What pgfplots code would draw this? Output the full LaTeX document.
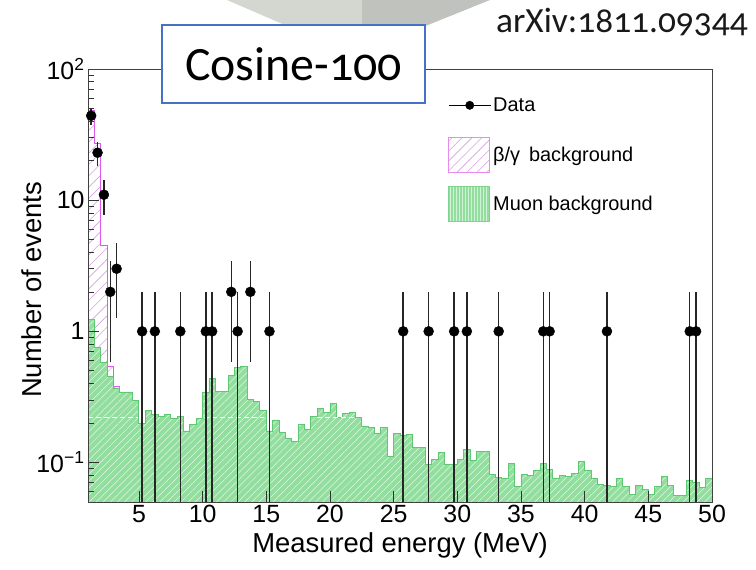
\documentclass[border=0pt]{standalone}
\usepackage{fontspec}
\setmainfont{Liberation Sans}
\newfontfamily\carlito[Numbers=OldStyle]{Carlito}
\usepackage{pgfplots}
\pgfplotsset{compat=1.18}
\usepackage{pgfplotstable}
\usetikzlibrary{patterns.meta}

\definecolor{mgreen}{RGB}{146,222,158}
\definecolor{mgreenline}{RGB}{95,200,115}
\definecolor{bgline}{RGB}{222,90,232}
\definecolor{bghatch}{RGB}{215,160,225}
\definecolor{boxblue}{RGB}{68,114,196}
\definecolor{slgreyA}{RGB}{212,214,208}
\definecolor{slgreyB}{RGB}{192,194,189}

% Muon background (bin left edges, 0.5 MeV bins)
\pgfplotstableread{
x y
1.0 1.23
1.5 0.75
2.0 0.575
2.5 0.45
3.0 0.37
3.5 0.345
4.0 0.345
4.5 0.295
5.0 0.20
5.5 0.25
6.0 0.233
6.5 0.224
7.0 0.233
7.5 0.217
8.0 0.224
8.5 0.174
9.0 0.194
9.5 0.218
10.0 0.34
10.5 0.44
11.0 0.35
11.5 0.35
12.0 0.46
12.5 0.53
13.0 0.54
13.5 0.30
14.0 0.294
14.5 0.25
15.0 0.174
15.5 0.211
16.0 0.17
16.5 0.153
17.0 0.146
17.5 0.195
18.0 0.179
18.5 0.223
19.0 0.257
19.5 0.24
20.0 0.281
20.5 0.22
21.0 0.237
21.5 0.24
22.0 0.22
22.5 0.187
23.0 0.185
23.5 0.167
24.0 0.184
24.5 0.111
25.0 0.167
25.5 0.16
26.0 0.164
26.5 0.13
27.0 0.13
27.5 0.097
28.0 0.106
28.5 0.12
29.0 0.097
29.5 0.097
30.0 0.105
30.5 0.126
31.0 0.103
31.5 0.121
32.0 0.121
32.5 0.0815
33.0 0.077
33.5 0.075
34.0 0.099
34.5 0.066
35.0 0.081
35.5 0.079
36.0 0.0866
36.5 0.099
37.0 0.089
37.5 0.076
38.0 0.079
38.5 0.078
39.0 0.083
39.5 0.102
40.0 0.0866
40.5 0.075
41.0 0.0675
41.5 0.067
42.0 0.066
42.5 0.076
43.0 0.066
43.5 0.0575
44.0 0.067
44.5 0.062
45.0 0.0575
45.5 0.066
46.0 0.078
46.5 0.067
47.0 0.056
47.5 0.056
48.0 0.0727
48.5 0.0707
49.0 0.0647
49.5 0.076
50.0 0.076
}\muon

% beta/gamma + muon (stacked total), low-energy bins
\pgfplotstableread{
x y
1.0 48
1.5 27
2.0 4.5
2.5 0.54
3.0 0.38
3.5 0.38
}\total

% Data: x, counts, error plus, error minus
\pgfplotstableread{
x y ep em
1.25 44 6.63 6.63
1.75 23 4.80 4.80
2.25 11 3.32 3.32
2.75 2 1.414 1.414
3.25 3 1.732 1.732
5.25 1 1 0.99
6.25 1 1 0.99
8.25 1 1 0.99
10.25 1 1 0.99
10.75 1 1 0.99
12.25 2 1.414 1.414
12.75 1 1 0.99
13.75 2 1.414 1.414
15.25 1 1 0.99
25.75 1 1 0.99
27.75 1 1 0.99
29.75 1 1 0.99
30.75 1 1 0.99
33.25 1 1 0.99
36.75 1 1 0.99
37.25 1 1 0.99
41.75 1 1 0.99
48.25 1 1 0.99
48.75 1 1 0.99
}\data

\begin{document}
\begin{tikzpicture}[x=1bp,y=1bp]
\useasboundingbox (0,0) rectangle (756,570);
% slide decoration (grey shape at top)
\fill[slgreyA] (227,570) -- (362,570) -- (362,518.4) -- (354,515) -- cycle;
\fill[slgreyB] (362,570) -- (490,570) -- (362,518.4) -- cycle;

\begin{axis}[
  at={(88bp,68bp)}, anchor=south west,
  scale only axis, width=624bp, height=433bp,
  ymode=log, xmin=1, xmax=50, ymin=0.05, ymax=100,
  log origin y=infty,
  axis on top,
  xtick={5,10,...,50},
  xticklabels={5,10,15,20,25,30,35,40,45,50},
  ytick={0.1,1,10,100},
  yticklabels={10\textsuperscript{−1},1,10,10\textsuperscript{2}},
  minor ytick={0.05,0.06,0.07,0.08,0.09,0.2,0.3,0.4,0.5,0.6,0.7,0.8,0.9,2,3,4,5,6,7,8,9,20,30,40,50,60,70,80,90},
  tick align=inside,
  xtick pos=left, ytick pos=left,
  major tick length=11bp, minor tick length=6bp,
  tick style={black!80, line width=0.7bp},
  axis line style={black!75, line width=0.8bp},
  ticklabel style={font=\fontsize{25}{30}\selectfont},
  xlabel={Measured energy (MeV)},
  ylabel={Number of events},
  label style={font=\fontsize{27.5}{32}\selectfont},
  xlabel style={at={(axis description cs:0.5,-0.0993)}, anchor=center},
  ylabel style={at={(axis description cs:-0.0897,0.49)}, anchor=center},
  legend cell align=left,
  legend style={at={(axis description cs:0.577,0.957)}, anchor=north west,
    draw=none, fill=none, inner sep=0pt, row sep=14bp,
    font=\fontsize{20}{24}\selectfont},
]
\addlegendimage{legend image code/.code={
  \path[draw=none, fill=none] (0bp,-17.5bp) rectangle (42bp,17.5bp);
  \draw[black, line width=1bp] (0bp,0bp) -- (42bp,0bp);
  \fill[black] (21bp,0bp) circle (4.2bp);}}
\addlegendentry{Data}
\addlegendimage{legend image code/.code={
  \path[draw=none, fill=white] (0bp,-17.5bp) rectangle (41bp,17.5bp);
  \draw[bgline!70, line width=1bp, pattern={Lines[angle=45,distance=7bp,line width=0.6bp]}, pattern color=bghatch] (0bp,-17.5bp) rectangle (41bp,17.5bp);}}
\addlegendentry{β/γ\, background}
\addlegendimage{legend image code/.code={
  \path[draw=none, fill=mgreen] (0bp,-17.5bp) rectangle (41bp,17.5bp);
  \path[draw=none, pattern={Lines[angle=90,distance=3bp,line width=0.5bp]}, pattern color=white!60!mgreen] (0bp,-17.5bp) rectangle (41bp,17.5bp);
  \draw[mgreenline!80, line width=1bp, fill=none] (0bp,-17.5bp) rectangle (41bp,17.5bp);}}
\addlegendentry{Muon background}

\addplot[const plot, draw=bgline, line width=1bp,
  pattern={Lines[angle=45,distance=8bp,line width=0.6bp]}, pattern color=bghatch,
  forget plot] table[x=x,y=y] {\total} \closedcycle;

\addplot[const plot, draw=mgreenline, line width=0.9bp, fill=mgreen,
  postaction={pattern={Lines[angle=45,distance=5bp,line width=0.5bp]}, pattern color=white!75!mgreen},
  forget plot] table[x=x,y=y] {\muon} \closedcycle;

\addplot[white, line width=0.8bp, dash pattern=on 5bp off 3bp, forget plot] coordinates {(1,0.22) (4.9,0.22)};
\addplot[white, line width=0.8bp, dash pattern=on 5bp off 3bp, forget plot] coordinates {(10.1,0.22) (14.85,0.22)};
\addplot[white, line width=0.8bp, dash pattern=on 5bp off 3bp, forget plot] coordinates {(19.0,0.22) (21.9,0.22)};

\addplot[black, only marks, mark=*, mark size=5bp, forget plot,
  error bars/.cd, y dir=both, y explicit,
  error bar style={line width=1.4bp, black!85}, error mark=none]
  table[x=x, y=y, y error plus=ep, y error minus=em] {\data};
\end{axis}

\node[draw=boxblue, line width=1.8bp, fill=white, minimum width=263bp, minimum height=78bp, inner sep=0pt, anchor=center]
  at (293.5,506) {\carlito\fontsize{48}{56}\selectfont Cosine-100};
\node[anchor=base west, inner sep=0pt, text=black!90] at (496,537)
  {\carlito\fontsize{35.5}{42}\selectfont arXiv:1811.09344};
\end{tikzpicture}
\end{document}
